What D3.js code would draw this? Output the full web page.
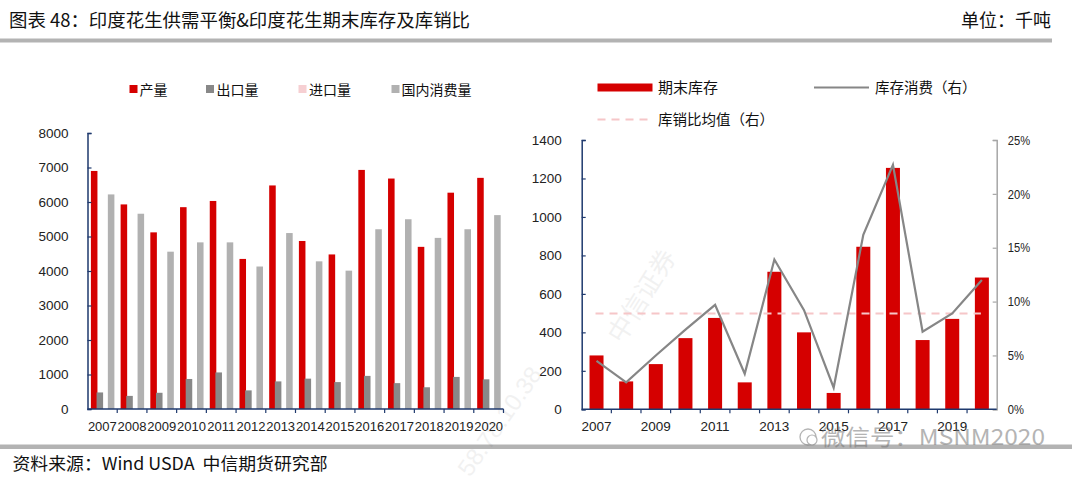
<!DOCTYPE html>
<html>
<head>
<meta charset="utf-8">
<script src="https://cdn.jsdelivr.net/npm/d3@7"></script>
<style>
  html, body { margin: 0; padding: 0; background: #ffffff; }
  svg { display: block; }
  text { font-family: "Liberation Sans", Arial, "Noto Sans CJK SC", sans-serif; }
  .cjk { font-family: "Noto Sans CJK SC", "Liberation Sans", sans-serif; }
  .pre { white-space: pre; }
</style>
</head>
<body>
<svg id="chart" width="1080" height="483"></svg>
<script>
// ---------- data ----------
const years = ["2007","2008","2009","2010","2011","2012","2013","2014","2015","2016","2017","2018","2019","2020"];

// left chart (thousand tonnes)
const production  = [6900, 5930, 5120, 5850, 6030, 4350, 6480, 4870, 4480, 6930, 6680, 4700, 6270, 6700];
const exports_    = [480, 380, 470, 870, 1060, 540, 800, 880, 780, 960, 750, 630, 930, 860];
const imports_    = [0, 0, 0, 0, 0, 0, 0, 0, 0, 0, 0, 0, 0, 0];
const consumption = [6220, 5660, 4560, 4830, 4830, 4130, 5100, 4280, 4010, 5210, 5500, 4960, 5210, 5620];
const leftTicks   = [0, 1000, 2000, 3000, 4000, 5000, 6000, 7000, 8000];

// right chart
const endingStocks = [280, 145, 235, 370, 475, 140, 715, 400, 85, 845, 1255, 360, 470, 685];
const stockToUse   = [0.045, 0.025, 0.050, 0.074, 0.097, 0.033, 0.139, 0.092, 0.020, 0.162, 0.227, 0.072, 0.089, 0.120];
const rightTicks   = [0, 200, 400, 600, 800, 1000, 1200, 1400];
const ratioTicks   = [0, 0.05, 0.10, 0.15, 0.20, 0.25];
const rightXLabels = ["2007","2009","2011","2013","2015","2017","2019"];

const leftSeries = [
  {name: "产量",      values: production,  color: "#d50000"},
  {name: "出口量",    values: exports_,    color: "#888888"},
  {name: "进口量",    values: imports_,    color: "#f6cfd2"},
  {name: "国内消费量", values: consumption, color: "#b1b1b1"}
];

const NAVY = "#1f3a6e";
const svg = d3.select("#chart");

// ---------- header / footer ----------
svg.append("text").attr("class","cjk").attr("x", 9).attr("y", 27)
  .attr("font-size", 18).attr("fill", "#111").attr("textLength", 461).attr("lengthAdjust", "spacingAndGlyphs")
  .text("图表 48：印度花生供需平衡&印度花生期末库存及库销比");
svg.append("text").attr("class","cjk").attr("x", 1051).attr("y", 27).attr("text-anchor","end")
  .attr("font-size", 18).attr("fill", "#111").text("单位：千吨");
svg.append("rect").attr("x", 0).attr("y", 38.5).attr("width", 1052).attr("height", 4).attr("fill", "#b3b3b3");
svg.append("rect").attr("x", 0).attr("y", 444.5).attr("width", 1072).attr("height", 4.5).attr("fill", "#b3b3b3");
svg.append("text").attr("class","cjk pre").attr("x", 12.5).attr("y", 470)
  .attr("font-size", 17).attr("fill", "#111").attr("textLength", 315).attr("lengthAdjust", "spacingAndGlyphs")
  .text("资料来源：Wind USDA  中信期货研究部");

// faint watermarks
svg.append("text").attr("class","cjk").attr("transform","translate(622,345) rotate(-58)")
  .attr("font-size", 26).attr("fill", "#000").attr("opacity", 0.05).text("中信证券");
svg.append("text").attr("transform","translate(470,478) rotate(-55)")
  .attr("font-size", 24).attr("fill", "#000").attr("opacity", 0.05).text("58.78.10.38");

// ---------- left chart ----------
const xL = d3.scaleBand().domain(years).range([87.5, 503.5]).padding(0);
const xLsub = d3.scaleBand().domain(leftSeries.map(s => s.name)).range([3.4, 26]).padding(0);
const yL = d3.scaleLinear().domain([0, 8000]).range([409, 133]);

const gL = svg.append("g");
leftSeries.forEach(s => {
  gL.append("g").selectAll("rect").data(years).join("rect")
    .attr("x", (d) => xL(d) + xLsub(s.name))
    .attr("width", xLsub.bandwidth() + 0.9)
    .attr("y", (d, i) => yL(s.values[i]))
    .attr("height", (d, i) => yL(0) - yL(s.values[i]))
    .attr("fill", s.color);
});

// left y axis
const axL = gL.append("g").attr("transform", `translate(87.5,0)`)
  .call(d3.axisLeft(yL).tickValues(leftTicks).tickSize(-4).tickPadding(19).tickFormat(d3.format("d")));
axL.select(".domain").attr("stroke", NAVY).attr("stroke-width", 1.5);
axL.selectAll(".tick line").attr("stroke", NAVY).attr("stroke-width", 1.2);
axL.selectAll(".tick text").attr("font-size", 13.5).attr("fill", "#222")
  .attr("font-family", "Liberation Sans, Arial, sans-serif");

// left x axis
gL.append("line").attr("x1", 87.5).attr("x2", 503.5).attr("y1", yL(0)).attr("y2", yL(0))
  .attr("stroke", NAVY).attr("stroke-width", 1.5);
gL.append("g").selectAll("line").data(years.slice(1).concat(["end"])).join("line")
  .attr("x1", d => d === "end" ? 503.5 : xL(d)).attr("x2", d => d === "end" ? 503.5 : xL(d))
  .attr("y1", yL(0)).attr("y2", yL(0) + 4).attr("stroke", NAVY).attr("stroke-width", 1.2);
gL.append("g").selectAll("text").data(years).join("text")
  .attr("x", d => xL(d) + xL.bandwidth() / 2).attr("y", 431)
  .attr("text-anchor", "middle").attr("font-size", 13).attr("fill", "#222").text(d => d);

// left legend
const legL = [{x: 129.5, tx: 139.5}, {x: 206, tx: 216.5}, {x: 298.5, tx: 309}, {x: 391.5, tx: 401.5}];
leftSeries.forEach((s, i) => {
  svg.append("rect").attr("x", legL[i].x).attr("y", 85).attr("width", 8).attr("height", 8).attr("fill", s.color);
  svg.append("text").attr("class","cjk").attr("x", legL[i].tx).attr("y", 94.5)
    .attr("font-size", 14).attr("fill", "#111").text(s.name);
});

// ---------- right chart ----------
const xR = d3.scaleBand().domain(years).range([581.7, 996.7]).padding(0);
const yR = d3.scaleLinear().domain([0, 1400]).range([409.3, 140]);
const yR2 = d3.scaleLinear().domain([0, 0.25]).range([409.3, 140]);
const barW = 14;

const gR = svg.append("g");
const avgRatio = d3.mean(stockToUse);

gR.append("g").selectAll("rect").data(years).join("rect")
  .attr("x", d => xR(d) + xR.bandwidth() / 2 - barW / 2)
  .attr("width", barW)
  .attr("y", (d, i) => yR(endingStocks[i]))
  .attr("height", (d, i) => yR(0) - yR(endingStocks[i]))
  .attr("fill", "#d50000");

// average dashed line
gR.append("line")
  .attr("x1", xR(years[0]) + xR.bandwidth() / 2 - 1)
  .attr("x2", xR(years[years.length - 1]) + xR.bandwidth() / 2 - 1)
  .attr("y1", yR2(avgRatio)).attr("y2", yR2(avgRatio))
  .attr("stroke", "#f6c6c8").attr("stroke-width", 2).attr("stroke-dasharray", "8,6");

// ratio line
gR.append("path")
  .datum(years.map((d, i) => [xR(d) + xR.bandwidth() / 2, yR2(stockToUse[i])]))
  .attr("d", d3.line())
  .attr("fill", "none").attr("stroke", "#868686").attr("stroke-width", 2.2).attr("stroke-linejoin", "miter");

// left axis
const axR = gR.append("g").attr("transform", `translate(581.7,0)`)
  .call(d3.axisLeft(yR).tickValues(rightTicks).tickSize(-4).tickPadding(20).tickFormat(d3.format("d")));
axR.select(".domain").attr("stroke", NAVY).attr("stroke-width", 1.5);
axR.selectAll(".tick line").attr("stroke", NAVY).attr("stroke-width", 1.2);
axR.selectAll(".tick text").attr("font-size", 13.5).attr("fill", "#222");

// right axis
const axR2 = gR.append("g").attr("transform", `translate(996.7,0)`)
  .call(d3.axisRight(yR2).tickValues(ratioTicks).tickSize(-4).tickPadding(11).tickFormat(d3.format(".0%")));
axR2.select(".domain").attr("stroke", "#a6a6a6").attr("stroke-width", 1.5);
axR2.selectAll(".tick line").attr("stroke", "#a6a6a6").attr("stroke-width", 1.2);
axR2.selectAll(".tick text").attr("font-size", 13).attr("fill", "#222")
  .attr("transform", "scale(0.86,1)").attr("x", 13);

// x axis
gR.append("line").attr("x1", 581.7).attr("x2", 996.7).attr("y1", yR(0)).attr("y2", yR(0))
  .attr("stroke", NAVY).attr("stroke-width", 1.5);
gR.append("g").selectAll("line").data(years.slice(1)).join("line")
  .attr("x1", d => xR(d)).attr("x2", d => xR(d))
  .attr("y1", yR(0)).attr("y2", yR(0) + 4).attr("stroke", NAVY).attr("stroke-width", 1.2);
gR.append("g").selectAll("text").data(rightXLabels).join("text")
  .attr("x", d => xR(d) + xR.bandwidth() / 2).attr("y", 431)
  .attr("text-anchor", "middle").attr("font-size", 13.5).attr("fill", "#222").text(d => d);

// right legend
svg.append("rect").attr("x", 597.5).attr("y", 83.5).attr("width", 55).attr("height", 8).attr("fill", "#d50000");
svg.append("text").attr("class","cjk").attr("x", 658).attr("y", 93)
  .attr("font-size", 15).attr("fill", "#111").text("期末库存");
svg.append("line").attr("x1", 814).attr("x2", 869).attr("y1", 87.5).attr("y2", 87.5)
  .attr("stroke", "#868686").attr("stroke-width", 2);
svg.append("text").attr("class","cjk").attr("x", 875).attr("y", 93)
  .attr("font-size", 14.5).attr("fill", "#111").text("库存消费（右）");
svg.append("line").attr("x1", 597.5).attr("x2", 652.5).attr("y1", 119.5).attr("y2", 119.5)
  .attr("stroke", "#f6c6c8").attr("stroke-width", 2).attr("stroke-dasharray", "8,6");
svg.append("text").attr("class","cjk").attr("x", 658).attr("y", 125)
  .attr("font-size", 14.5).attr("fill", "#111").text("库销比均值（右）");

// wechat watermark (overlaps the year labels, as in the source image)
const wx = svg.append("g").attr("opacity", 0.55);
wx.append("circle").attr("cx", 808).attr("cy", 437).attr("r", 8).attr("fill", "none").attr("stroke", "#777").attr("stroke-width", 1.3);
wx.append("circle").attr("cx", 812).attr("cy", 440).attr("r", 5).attr("fill", "#fff").attr("stroke", "#777").attr("stroke-width", 1.2);
wx.append("text").attr("class","cjk").attr("x", 821).attr("y", 445)
  .attr("font-size", 22).attr("fill", "#777").attr("textLength", 224).attr("lengthAdjust", "spacingAndGlyphs")
  .text("微信号：MSNM2020");
</script>
</body>
</html>
